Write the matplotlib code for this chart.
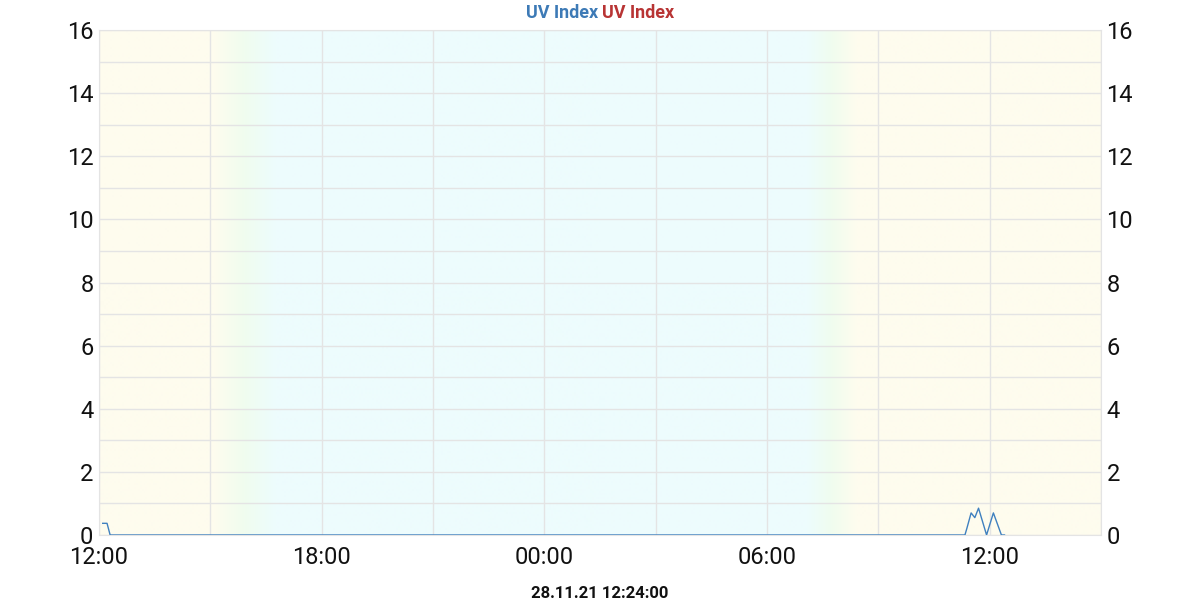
import numpy as np
import pandas as pd
import matplotlib
matplotlib.use("Agg")
import matplotlib.pyplot as plt
import matplotlib.dates as mdates
from matplotlib.colors import to_rgb

plt.rcParams['font.family'] = ['Roboto', 'DejaVu Sans']

# UV index measurements
uv_times = ["2021-11-27 12:06", "2021-11-27 12:13", "2021-11-27 12:18",
            "2021-11-28 11:20", "2021-11-28 11:23", "2021-11-28 11:30",
            "2021-11-28 11:36", "2021-11-28 11:42", "2021-11-28 11:55",
            "2021-11-28 12:06", "2021-11-28 12:19", "2021-11-28 12:24"]
uv_values = [0.37, 0.37, 0.0,
             0.0, 0.2, 0.7,
             0.55, 0.85, 0.0,
             0.7, 0.0, 0.0]

x_start = "2021-11-27 12:00"
x_end = "2021-11-28 15:00"

# background day/night colour stops
bg_times = ["2021-11-27 12:00", "2021-11-27 15:05", "2021-11-27 15:55", "2021-11-27 16:45",
            "2021-11-28 07:05", "2021-11-28 07:45", "2021-11-28 08:25", "2021-11-28 15:00"]
bg_colors = ["#fefcee", "#fefcee", "#f0fdef", "#edfcfd",
             "#edfcfd", "#f0fdef", "#fefcee", "#fefcee"]

title_left = "UV Index"
title_right = "UV Index"
footer = "28.11.21 12:24:00"

t = mdates.date2num(pd.to_datetime(uv_times))
x0 = mdates.date2num(pd.Timestamp(x_start))
x1 = mdates.date2num(pd.Timestamp(x_end))

fig = plt.figure(figsize=(12, 6), dpi=100)
ax = fig.add_axes([99/1200, 65/600, 1002/1200, 505/600])

# gradient background
bt = mdates.date2num(pd.to_datetime(bg_times))
rgb = np.array([to_rgb(c) for c in bg_colors])
xs = np.linspace(x0, x1, 1000)
img = np.stack([np.interp(xs, bt, rgb[:, k]) for k in range(3)], axis=-1)[None, :, :]
ax.imshow(img, extent=[x0, x1, 0, 16], aspect='auto', zorder=0, interpolation='bilinear')

ax.plot(t, uv_values, color='#3f80bf', lw=1.0, zorder=3)

ax.set_xlim(x0, x1)
ax.set_ylim(0, 16)
ax.xaxis.set_major_locator(mdates.HourLocator(byhour=[0, 6, 12, 18]))
ax.xaxis.set_minor_locator(mdates.HourLocator(byhour=[3, 9, 15, 21]))
ax.xaxis.set_major_formatter(mdates.DateFormatter('%H:%M'))
ax.set_yticks(np.arange(0, 17, 2))
ax.set_yticks(np.arange(1, 16, 2), minor=True)
ax.grid(True, which='both', color='#e4e4e4', lw=1, zorder=1)
ax.set_axisbelow(False)
for g in ax.get_xgridlines() + ax.get_ygridlines():
    g.set_zorder(1)
ax.tick_params(which='both', length=0, labelsize=17, colors='#111111')
ax.tick_params(axis='y', labelright=True, pad=4)
ax.tick_params(axis='x', pad=8)
for s in ax.spines.values():
    s.set_color('#e4e4e4')

fig.text(0.4985, 0.978, title_left, ha='right', va='center', color='#3d7ab6',
         fontsize=13, fontweight='bold')
fig.text(0.5015, 0.978, title_right, ha='left', va='center', color='#b83434',
         fontsize=13, fontweight='bold')
fig.text(0.5, 1 - 593/600, footer, ha='center', va='center', color='#111111',
         fontsize=12, fontweight='bold')

fig.savefig('out.png', dpi=100)
